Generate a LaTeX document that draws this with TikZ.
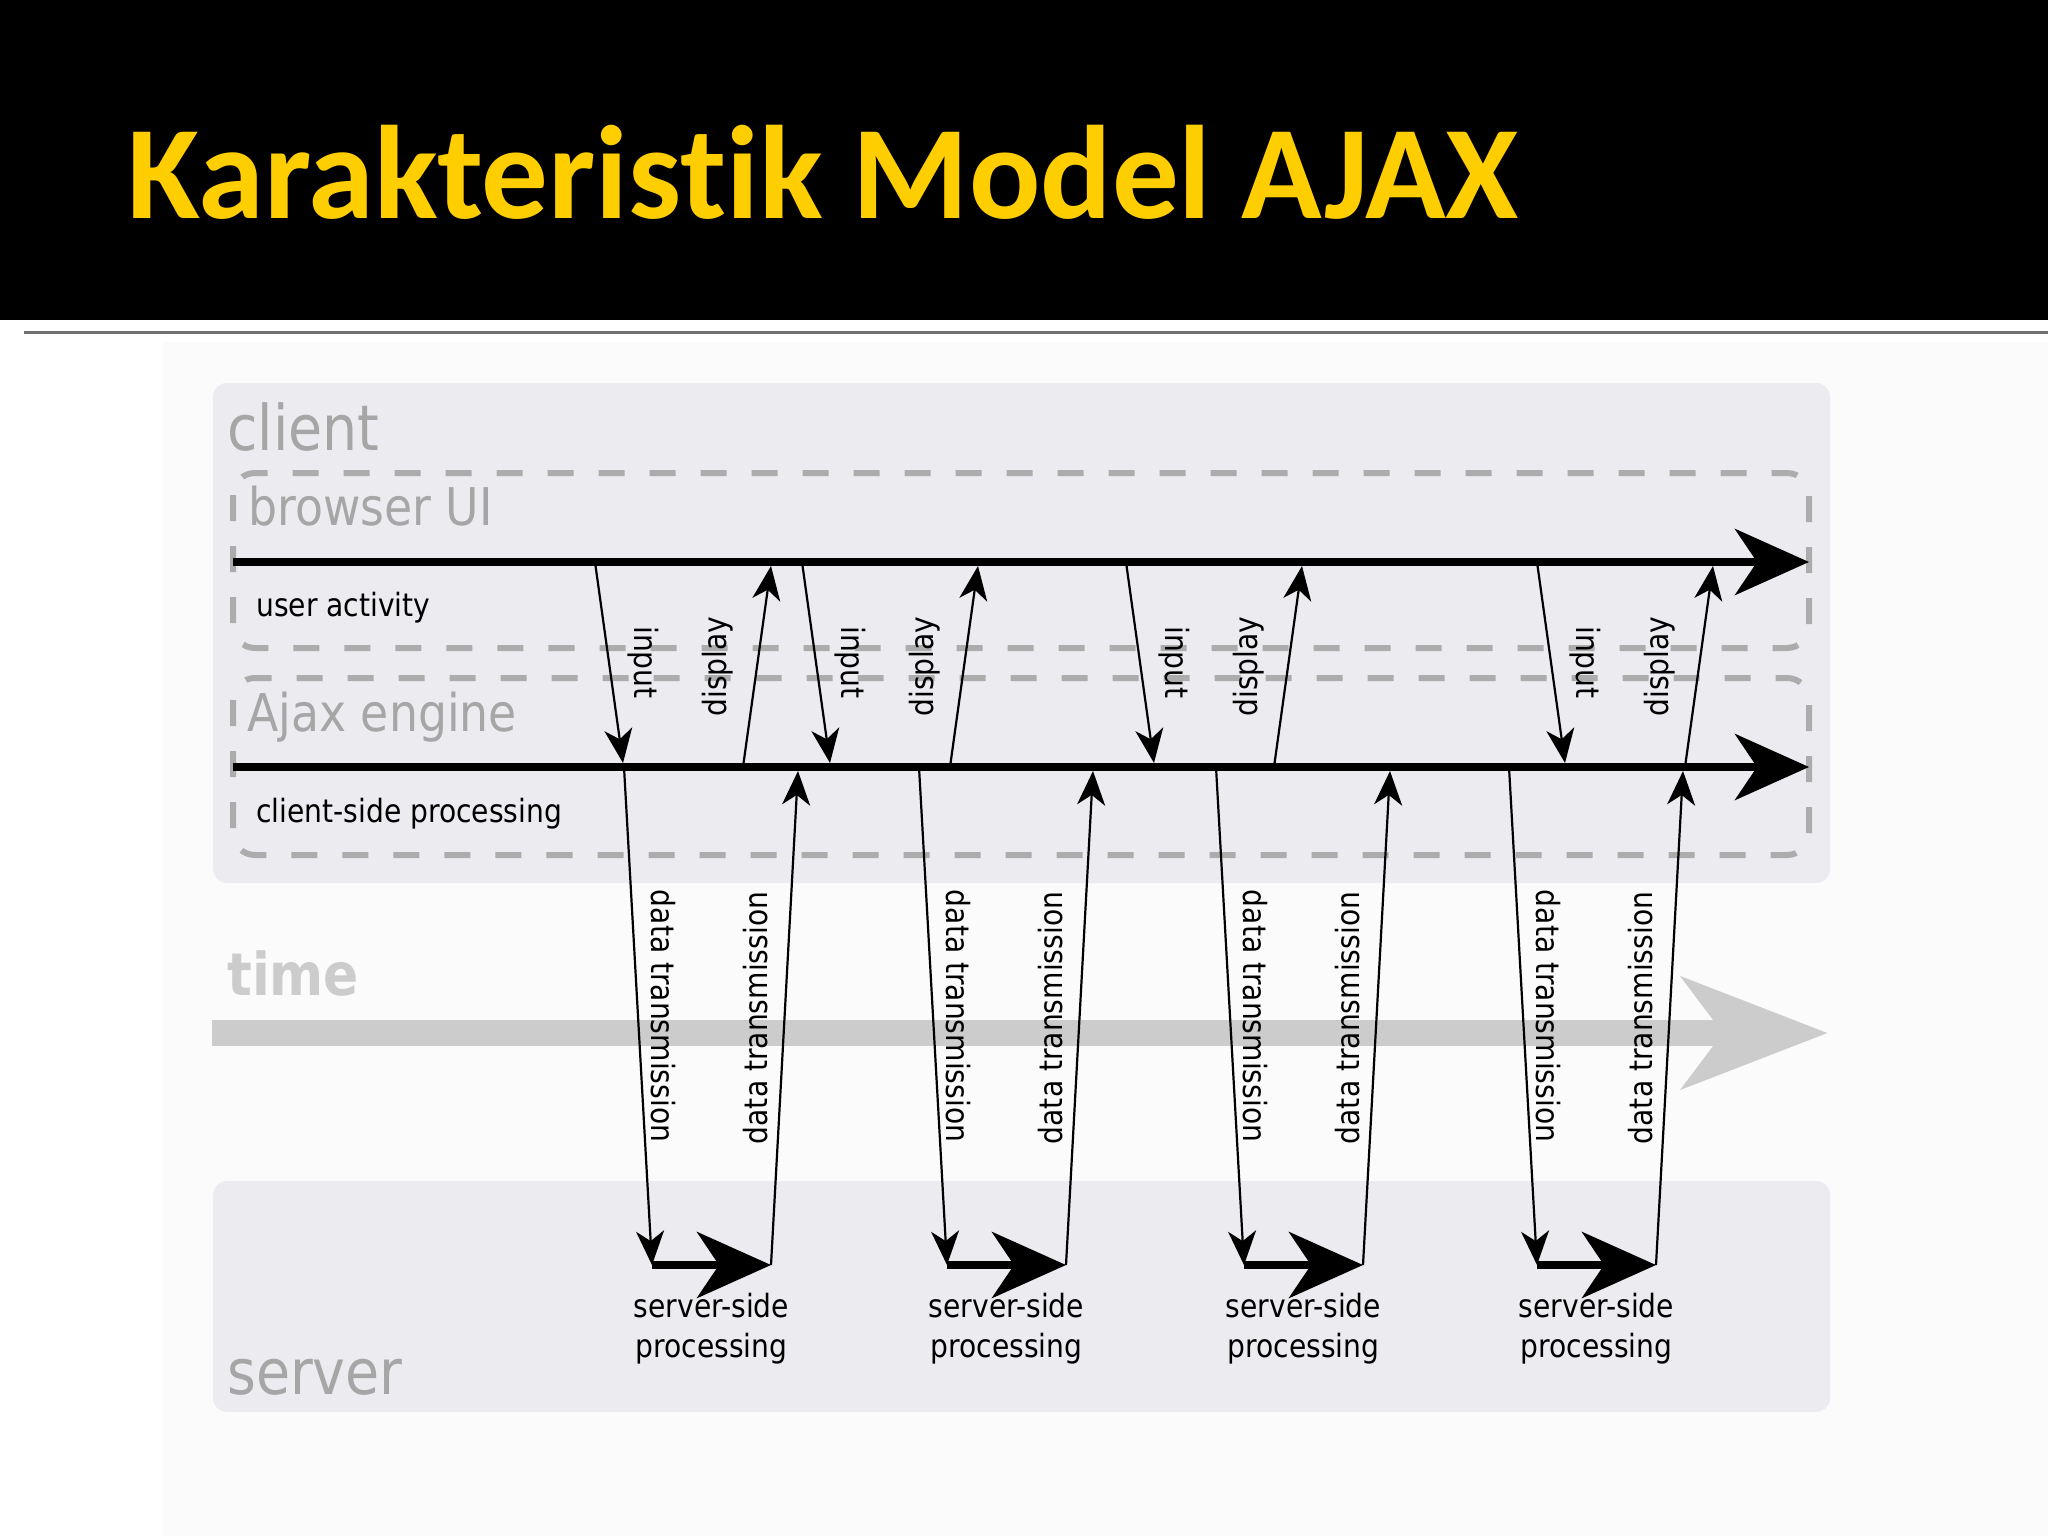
\documentclass[tikz,border=0pt]{standalone}
\usepackage{fontspec}
\setmainfont{DejaVu Sans}
\newfontfamily\diagfont[FakeStretch=0.88]{DejaVu Sans}
\newfontfamily\titlefont[Ligatures={NoCommon}]{Carlito}
\usetikzlibrary{arrows.meta, calc, positioning}

\definecolor{slideyellow}{RGB}{255,206,0}
\definecolor{rulegray}{RGB}{112,112,112}
\definecolor{imgwhite}{RGB}{251,251,251}
\definecolor{panelgray}{RGB}{236,235,239}
\definecolor{dashgray}{RGB}{172,172,172}
\definecolor{labelgray}{RGB}{166,166,166}
\definecolor{timegray}{RGB}{204,204,204}

\tikzset{
    panel/.style={fill=panelgray, draw=none, rounded corners=14pt},
    layerbox/.style={draw=dashgray, line width=6pt, dash pattern=on 26pt off 25pt, rounded corners=22pt},
    zonename/.style={text=labelgray, anchor=base west, inner sep=0pt, font=\diagfont\fontsize{63}{70}\selectfont},
    layername/.style={text=labelgray, anchor=base west, inner sep=0pt, font=\diagfont\fontsize{52}{60}\selectfont},
    lanetext/.style={anchor=base west, inner sep=0pt, font=\diagfont\fontsize{32}{40}\selectfont},
    timeline/.style={line width=8pt, -{Stealth[length=74pt, width=66pt, inset=22pt]}},
    msg/.style={line width=2.2pt, -{Stealth[length=34pt, width=28pt, inset=10pt]}},
    msglabel/.style={inner sep=0pt, font=\diagfont\fontsize{32}{40}\selectfont},
    srvlabel/.style={inner sep=0pt, align=center, font=\diagfont\fontsize{32}{40}\selectfont}
}

\begin{document}
\begin{tikzpicture}[x=1pt, y=-1pt]
    \useasboundingbox (0,0) rectangle (2048,1536);
    \fill[white] (0,0) rectangle (2048,1536);

    % --- bandeau du titre ---
    \fill[black] (0,0) rectangle (2048,320);
    \node[text=slideyellow, anchor=base west, inner sep=0pt, font=\titlefont\bfseries\fontsize{133}{140}\selectfont]
        (title) at (127,218) {Karakteristik Model AJAX};
    \draw[rulegray, line width=3pt] (24,332) -- (2048,332);

    % --- fond du schema ---
    \fill[imgwhite] (163,342) rectangle (2048,1536);
    \fill[panel] (213,383) rectangle (1830,883);   % client
    \fill[panel] (213,1181) rectangle (1830,1412); % server

    % --- axe du temps ---
    \coordinate (t0) at (212,1033);
    \coordinate (t1) at (1828,1033);
    \draw[timegray, line width=26pt, -{Stealth[length=145pt, width=110pt, inset=40pt]}] (t0) -- (t1);
    \node[text=timegray, anchor=base west, inner sep=0pt, font=\diagfont\bfseries\fontsize{59}{66}\selectfont]
        (time) at (227,995) {time};

    % --- couches du client ---
    \draw[layerbox] (233,473) rectangle (1809,648);
    \draw[layerbox] (233,678) rectangle (1809,855);

    \node[zonename] (client) at (227,450) {client};
    \node[zonename] (server) at (227,1394) {server};
    \node[layername] (browser) at (248,525) {browser UI};
    \node[layername] (engine) at (247,731) {Ajax engine};
    \node[lanetext] (activity) at (256,616) {user activity};
    \node[lanetext] (clientproc) at (256,822) {client-side processing};

    % --- lignes de vie ---
    \coordinate (ui-start) at (233,562);
    \coordinate (ui-end) at (1809,562);
    \coordinate (eng-start) at (233,767);
    \coordinate (eng-end) at (1809,767);
    \draw[timeline] (ui-start) -- (ui-end);
    \draw[timeline] (eng-start) -- (eng-end);

    % --- saisie / affichage ---
    \foreach \n/\x in {1/595, 2/802, 3/1126, 4/1537} {
        \coordinate (act-\n) at (\x,562);
        \coordinate (get-\n) at (\x+28,763);
        \coordinate (upd-\n) at (\x+148,767);
        \coordinate (shw-\n) at (\x+176,566);
        \draw[msg] (act-\n) -- (get-\n)
            node[msglabel, midway, xshift=34pt, rotate=-90] (in-lbl-\n) {input};
        \draw[msg] (upd-\n) -- (shw-\n)
            node[msglabel, midway, xshift=-39pt, rotate=90] (disp-lbl-\n) {display};
    }

    % --- aller-retour avec le serveur ---
    \foreach \i/\dx in {1/0, 2/295, 3/592, 4/885} {
        \coordinate (req-\i) at (624+\dx,767);
        \coordinate (srvin-\i) at (652+\dx,1265);
        \coordinate (srvout-\i) at (771+\dx,1265);
        \coordinate (resp-\i) at (798+\dx,771);
        \draw[msg] (req-\i) -- (srvin-\i)
            node[msglabel, midway, xshift=25pt, rotate=-90] (down-lbl-\i) {data transmission};
        \draw[timeline] (srvin-\i) -- (srvout-\i)
            node[srvlabel, midway, below=24pt] (srv-lbl-\i) {server-side\\processing};
        \draw[msg] (srvout-\i) -- (resp-\i)
            node[msglabel, midway, xshift=-29pt, rotate=90] (up-lbl-\i) {data transmission};
    }
\end{tikzpicture}
\end{document}
